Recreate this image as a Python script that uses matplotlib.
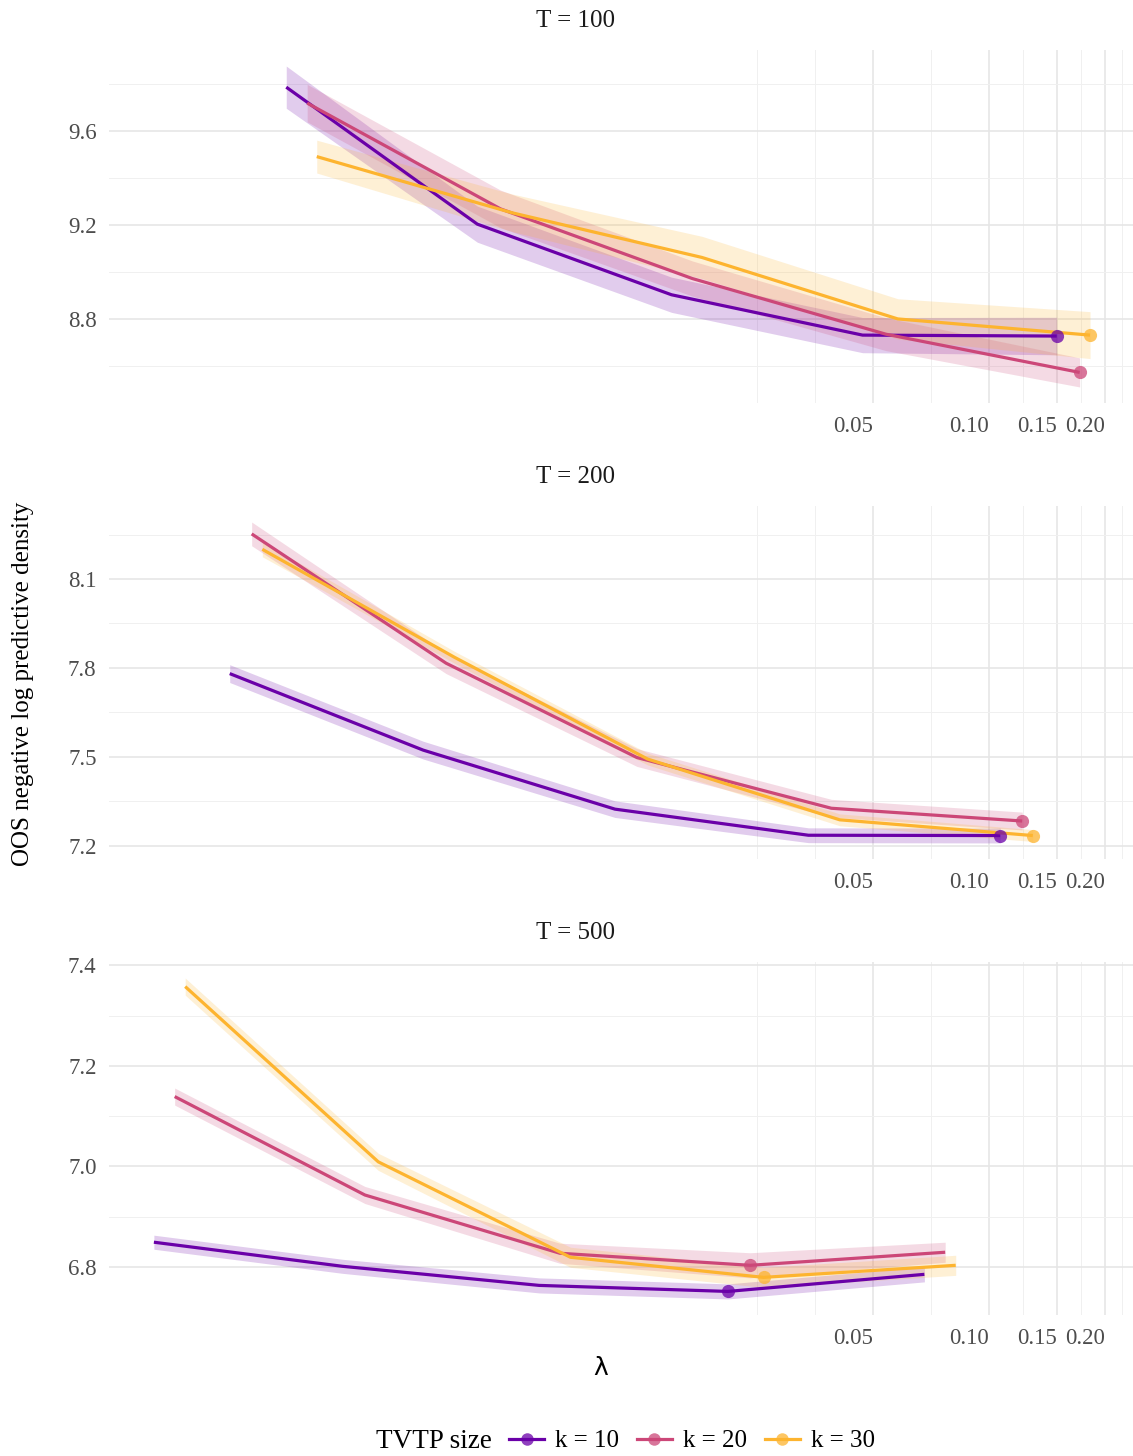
import matplotlib
matplotlib.use('Agg')
import matplotlib.pyplot as plt
from matplotlib.lines import Line2D
import numpy as np

plt.rcParams['font.family'] = ['Liberation Serif', 'DejaVu Serif']

W, H = 1133, 1456

panel_titles = ['T = 100', 'T = 200', 'T = 500']
k_labels = ['k = 10', 'k = 20', 'k = 30']
colors = ['#6A00A8', '#CC4778', '#FDB42F']

# lambda grid per T (rows: k = 10, 20, 30)
lam_100 = [
    [0.0015, 0.0047, 0.015, 0.047, 0.150],
    [0.0017, 0.0054, 0.017, 0.054, 0.172],
    [0.0018, 0.0058, 0.018, 0.058, 0.183],
]
lam_200 = [
    [0.00107, 0.0034, 0.0107, 0.034, 0.107],
    [0.00122, 0.0039, 0.0122, 0.039, 0.122],
    [0.0013, 0.0041, 0.013, 0.041, 0.130],
]
lam_500 = [
    [0.00068, 0.0021, 0.0068, 0.021, 0.068],
    [0.00077, 0.0024, 0.0077, 0.024, 0.077],
    [0.00082, 0.0026, 0.0082, 0.026, 0.082],
]

# OOS negative log predictive density
nlpd_100 = [
    [9.788, 9.204, 8.903, 8.731, 8.727],
    [9.720, 9.269, 8.972, 8.735, 8.572],
    [9.492, 9.252, 9.062, 8.800, 8.731],
]
nlpd_200 = [
    [7.781, 7.523, 7.324, 7.236, 7.235],
    [8.252, 7.816, 7.498, 7.327, 7.284],
    [8.200, 7.836, 7.493, 7.288, 7.235],
]
nlpd_500 = [
    [6.849, 6.801, 6.763, 6.751, 6.785],
    [7.139, 6.943, 6.827, 6.803, 6.829],
    [7.358, 7.009, 6.819, 6.779, 6.803],
]

# half width of the ribbons
se_100 = [
    [0.090, 0.077, 0.075, 0.075, 0.080],
    [0.080, 0.080, 0.075, 0.070, 0.062],
    [0.070, 0.080, 0.090, 0.086, 0.100],
]
se_200 = [
    [0.030, 0.030, 0.028, 0.025, 0.025],
    [0.040, 0.035, 0.030, 0.030, 0.030],
    [0.025, 0.020, 0.020, 0.020, 0.020],
]
se_500 = [
    [0.014, 0.014, 0.015, 0.015, 0.015],
    [0.017, 0.017, 0.020, 0.025, 0.020],
    [0.017, 0.017, 0.020, 0.020, 0.020],
]

x_major = [0.05, 0.10, 0.15, 0.20]
x_major_labels = ['0.05', '0.10', '0.15', '0.20']
x_minor = [0.025, 0.0354, 0.0707, 0.1225, 0.1732, 0.222]

y_major = [[8.8, 9.2, 9.6], [7.2, 7.5, 7.8, 8.1], [6.8, 7.0, 7.2, 7.4]]
y_minor = [[8.6, 9.0, 9.4, 9.8], [7.35, 7.65, 7.95, 8.25], [6.9, 7.1, 7.3]]

lams = [lam_100, lam_200, lam_500]
nlpds = [nlpd_100, nlpd_200, nlpd_500]
ses = [se_100, se_200, se_500]

fig = plt.figure(figsize=(W / 100, H / 100), dpi=100)

for i in range(3):
    top = 50 + 456 * i
    bottom = 403 + 456 * i
    ax = fig.add_axes([109 / W, 1 - bottom / H, 1024 / W, (bottom - top) / H])
    for j in range(3):
        x = np.array(lams[i][j])
        y = np.array(nlpds[i][j])
        s = np.array(ses[i][j])
        ax.fill_between(x, y - s, y + s, color=colors[j], alpha=0.2, lw=0)
    for j in range(3):
        x = np.array(lams[i][j])
        y = np.array(nlpds[i][j])
        ax.plot(x, y, color=colors[j], lw=2.3, solid_capstyle='butt')
        m = np.argmin(y)
        ax.scatter([x[m]], [y[m]], s=90, color=colors[j], alpha=0.75, lw=0, zorder=3)

    ax.set_xscale('log')
    ax.set_xlim(0.00052, 0.2366)
    ax.set_xticks(x_major)
    ax.set_xticklabels(x_major_labels, ha='right')
    ax.set_xticks(x_minor, minor=True)
    ax.set_xticklabels([], minor=True)
    ax.set_yticks(y_major[i])
    ax.set_yticklabels(['%.1f' % v for v in y_major[i]])
    ax.set_yticks(y_minor[i], minor=True)
    ax.margins(y=0.05)

    ax.grid(True, which='major', color='#E6E6E6', lw=1.2)
    ax.grid(True, which='minor', color='#F0F0F0', lw=0.7)
    ax.set_axisbelow(True)
    for sp in ax.spines.values():
        sp.set_visible(False)
    ax.tick_params(which='both', length=0, labelsize=16.5, colors='#4D4D4D')
    ax.tick_params(axis='x', pad=9)
    ax.tick_params(axis='y', pad=9)

    fig.text(575 / W, 1 - (21 + 456 * i) / H, panel_titles[i], ha='center', va='center',
             fontsize=18, color='#1A1A1A')

fig.text(23 / W, 1 - 684 / H, 'OOS negative log predictive density', rotation=90,
         ha='center', va='center', fontsize=18)
fig.text(601 / W, 1 - 1368 / H, 'λ', ha='center', va='center', fontsize=18,
         family=['DejaVu Sans'])

# legend along the bottom
fig.text(376 / W, 1 - 1441 / H, 'TVTP size', ha='left', va='center', fontsize=19.5)
handles = []
for j in range(3):
    handles.append(Line2D([], [], color=colors[j], lw=2.3, marker='o', markersize=9,
                          markerfacecolor=matplotlib.colors.to_rgba(colors[j], 0.75),
                          markeredgewidth=0))
fig.legend(handles, k_labels, loc='center left', bbox_to_anchor=(509 / W, 1 - 1441 / H),
           ncol=3, frameon=False, fontsize=18, handlelength=1.4, handletextpad=0.45,
           columnspacing=0.7, borderpad=0, borderaxespad=0)

fig.savefig('out.png', dpi=100)
